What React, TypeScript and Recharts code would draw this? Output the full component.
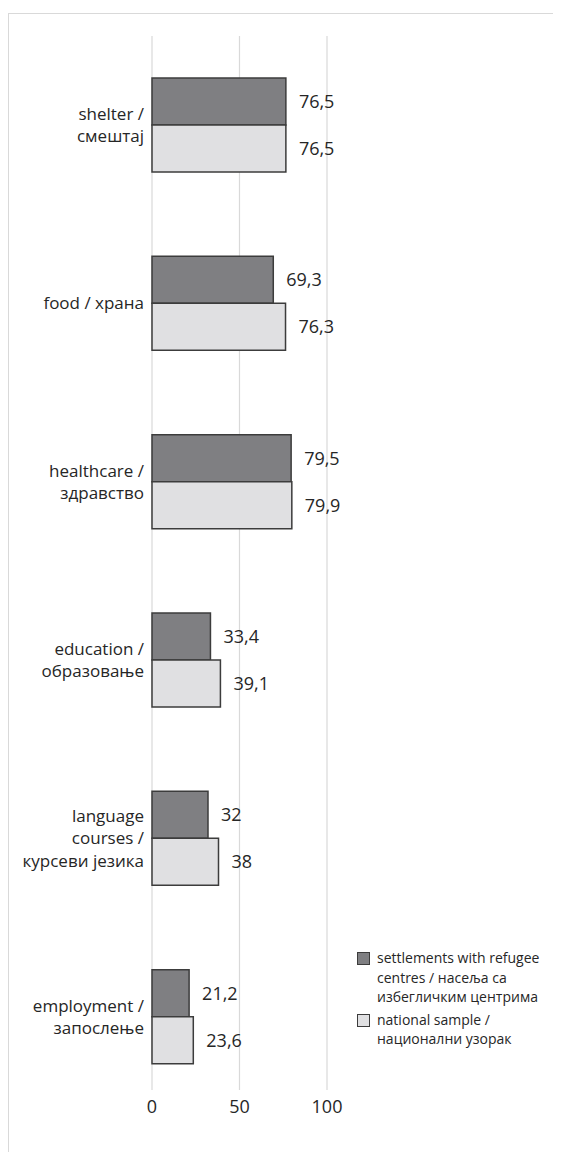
import React from 'react';
import { BarChart, Bar, XAxis, YAxis, CartesianGrid, LabelList } from 'recharts';

// categories (top to bottom), each label split into its printed lines
const categories = ['shelter', 'food', 'healthcare', 'education', 'language', 'employment'];
const categoryLines = [
  ['shelter /', 'смештај'],
  ['food / храна'],
  ['healthcare /', 'здравство'],
  ['education /', 'образовање'],
  ['language', 'courses /', 'курсеви језика'],
  ['employment /', 'запослење'],
];

// series values (%)
const refugeeCentres = [76.5, 69.3, 79.5, 33.4, 32, 21.2];
const nationalSample = [76.5, 76.3, 79.9, 39.1, 38, 23.6];

const xTicks = [0, 50, 100];

const seriesNames = ['settlements with refugee centres / насеља са избегличким центрима', 'national sample / национални узорак'];
const legendLines = [
  ['settlements with refugee', 'centres / насеља са', 'избегличким центрима'],
  ['national sample /', 'национални узорак'],
];

const DARK = '#7f7f82';
const LIGHT = '#e0e0e2';
const EDGE = '#3c3c3c';
const TEXT = '#262626';
const FONT = '"Open Sans", sans-serif';

const chartData = categories.map((name, i) => ({
  name,
  refugee: refugeeCentres[i],
  national: nationalSample[i],
}));

const fmt = (v: any) => String(v).replace('.', ',');

const CategoryTick = (props: any) => {
  const { x, y, payload } = props;
  const idx = categories.indexOf(payload.value);
  const lines = categoryLines[idx] || [payload.value];
  const lh = 22.5;
  const startY = y - ((lines.length - 1) * lh) / 2;
  return (
    <text x={x} y={startY} textAnchor="end" fill={TEXT} fontSize={17} fontFamily={FONT}>
      {lines.map((l, i) => (
        <tspan key={i} x={x} y={startY + i * lh} dy="0.35em">
          {l}
        </tspan>
      ))}
    </text>
  );
};

const App: React.FC = () => {
  return (
    <div style={{ paddingTop: 5 }}>
      <style>{'html,body{overflow:hidden}'}</style>
      <div
        style={{
          position: 'relative',
          width: 552,
          height: 1138,
          borderTop: '1px solid #d9d9d9',
          borderLeft: '1px solid #d9d9d9',
          background: '#fff',
        }}
      >
        <BarChart
          width={552}
          height={1138}
          data={chartData}
          layout="vertical"
          margin={{ top: 22, right: 234, left: 0, bottom: 32 }}
          barGap={0}
          barSize={47}
        >
          <CartesianGrid horizontal={false} vertical={true} stroke="#d9d9d9" strokeWidth={1.2} />
          <XAxis
            type="number"
            domain={[0, 100]}
            ticks={xTicks}
            axisLine={false}
            tickLine={false}
            tickMargin={4}
            height={30}
            tick={{ fill: TEXT, fontSize: 18, fontFamily: FONT }}
          />
          <YAxis
            type="category"
            dataKey="name"
            width={143}
            axisLine={false}
            tickLine={false}
            padding={{ top: 0, bottom: -16 }}
            tick={<CategoryTick />}
            interval={0}
          />
          <Bar dataKey="refugee" name={seriesNames[0]} fill={DARK} stroke={EDGE} strokeWidth={1.5} isAnimationActive={false}>
            <LabelList dataKey="refugee" position="right" offset={13} formatter={fmt} fill={TEXT} fontSize={18} fontFamily={FONT} />
          </Bar>
          <Bar dataKey="national" name={seriesNames[1]} fill={LIGHT} stroke={EDGE} strokeWidth={1.5} isAnimationActive={false}>
            <LabelList dataKey="national" position="right" offset={13} formatter={fmt} fill={TEXT} fontSize={18} fontFamily={FONT} />
          </Bar>
        </BarChart>

        <div
          style={{
            position: 'absolute',
            left: 348,
            top: 934,
            fontFamily: FONT,
            fontSize: 14,
            lineHeight: '19.5px',
            color: TEXT,
          }}
        >
          {legendLines.map((lines, i) => (
            <div key={i} style={{ display: 'flex', alignItems: 'flex-start', marginTop: i === 0 ? 0 : 3 }}>
              <div
                style={{
                  width: 11,
                  height: 11,
                  marginTop: 4,
                  marginRight: 7,
                  background: i === 0 ? DARK : LIGHT,
                  border: `1px solid ${EDGE}`,
                  flexShrink: 0,
                }}
              />
              <div style={{ whiteSpace: 'nowrap' }}>
                {lines.map((l, j) => (
                  <React.Fragment key={j}>
                    {j > 0 && <br />}
                    {l}
                  </React.Fragment>
                ))}
              </div>
            </div>
          ))}
        </div>
      </div>
    </div>
  );
};

export default App;
